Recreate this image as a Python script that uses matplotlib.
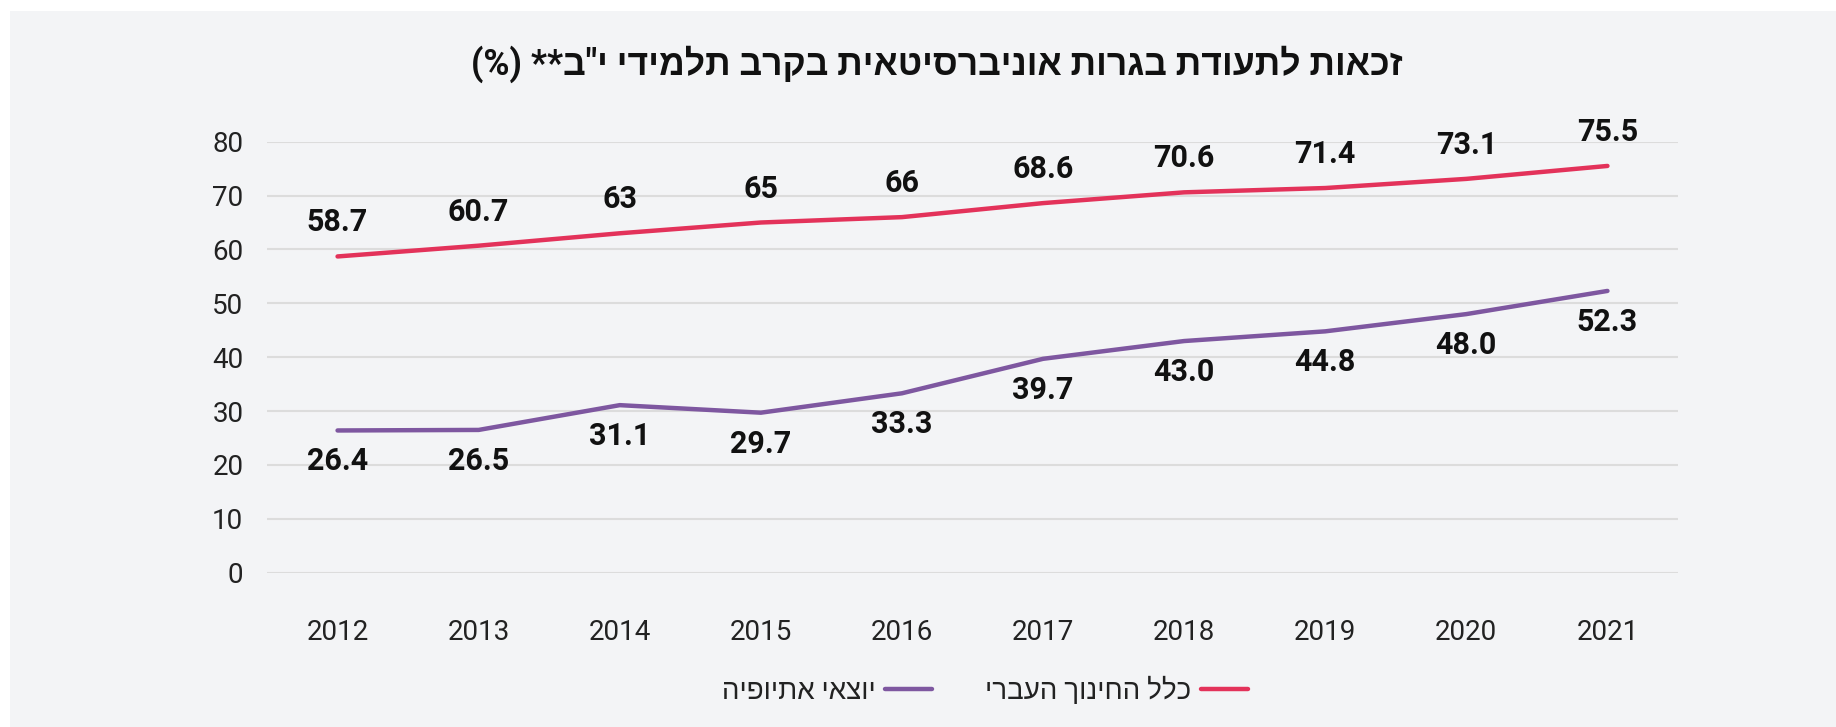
import matplotlib
matplotlib.use("Agg")
import matplotlib.pyplot as plt
from matplotlib.patches import Rectangle
from matplotlib.lines import Line2D

years = ["2012", "2013", "2014", "2015", "2016", "2017", "2018", "2019", "2020", "2021"]
all_hebrew = [58.7, 60.7, 63, 65, 66, 68.6, 70.6, 71.4, 73.1, 75.5]
ethiopia = [26.4, 26.5, 31.1, 29.7, 33.3, 39.7, 43.0, 44.8, 48.0, 52.3]
all_labels = ["58.7", "60.7", "63", "65", "66", "68.6", "70.6", "71.4", "73.1", "75.5"]
eth_labels = ["26.4", "26.5", "31.1", "29.7", "33.3", "39.7", "43.0", "44.8", "48.0", "52.3"]
yticks = [0, 10, 20, 30, 40, 50, 60, 70, 80]

title_txt = 'זכאות לתעודת בגרות אוניברסיטאית בקרב תלמידי י"ב** (%)'
name_all = "כלל החינוך העברי"
name_eth = "יוצאי אתיופיה"

RED = "#e3325a"
PURPLE = "#7e57a0"
BG = "#f3f4f6"
GRID = "#dcdcdc"
FAM = ["Roboto", "Liberation Sans", "DejaVu Sans"]


def vis(s):
    """Reverse logical RTL text to visual order for matplotlib (no bidi)."""
    mirror = {"(": ")", ")": "("}
    return "".join(mirror.get(c, c) for c in s[::-1])


plt.rcParams["font.family"] = FAM

fig = plt.figure(figsize=(18.36, 7.27), dpi=100)
fig.patch.set_facecolor("white")
fig.add_artist(Rectangle((10 / 1836, 0), 1 - 10 / 1836, 1 - 11 / 727,
                         transform=fig.transFigure, facecolor=BG,
                         edgecolor="none", zorder=-10))

ax = fig.add_axes([267 / 1836, 1 - 572.7 / 727, (1678 - 267) / 1836, (572.7 - 141.7) / 727])
ax.set_facecolor("none")
x = list(range(len(years)))

ax.plot(x, all_hebrew, color=RED, lw=3.2, solid_capstyle="round", zorder=3)
ax.plot(x, ethiopia, color=PURPLE, lw=3.2, solid_capstyle="round", zorder=3)

for xi, v, t in zip(x, all_hebrew, all_labels):
    ax.annotate(t, (xi, v), xytext=(0, 34), textcoords="offset pixels",
                ha="center", va="center", fontsize=22, fontweight="bold",
                color="#111111", annotation_clip=False)
for xi, v, t in zip(x, ethiopia, eth_labels):
    ax.annotate(t, (xi, v), xytext=(0, -31), textcoords="offset pixels",
                ha="center", va="center", fontsize=22, fontweight="bold",
                color="#111111", annotation_clip=False)

ax.set_xlim(-0.5, len(years) - 0.5)
ax.set_ylim(0, 80)
ax.set_yticks(yticks)
ax.set_xticks(x)
ax.set_xticklabels(years)
ax.tick_params(axis="both", length=0, labelsize=20, colors="#222222")
ax.tick_params(axis="y", pad=17)
ax.tick_params(axis="x", pad=33)
ax.grid(axis="y", color=GRID, lw=1.5)
ax.set_axisbelow(True)
for sp in ax.spines.values():
    sp.set_visible(False)

fig.text(937 / 1836, 1 - 64 / 727, vis(title_txt), ha="center", va="center",
         fontsize=25.6, fontweight="bold", color="#111111")

handles = [Line2D([], [], color=PURPLE, lw=3.2, solid_capstyle="round"),
           Line2D([], [], color=RED, lw=3.2, solid_capstyle="round")]
labels = [vis(name_eth), vis(name_all)]
fig.legend(handles, labels, loc="center", bbox_to_anchor=(985 / 1836, 1 - 691 / 727),
           ncol=2, frameon=False, markerfirst=False, fontsize=20,
           handlelength=1.7, handletextpad=0.35, columnspacing=1.9,
           labelcolor="#222222")

fig.savefig("out.png", dpi=100, facecolor="white")
